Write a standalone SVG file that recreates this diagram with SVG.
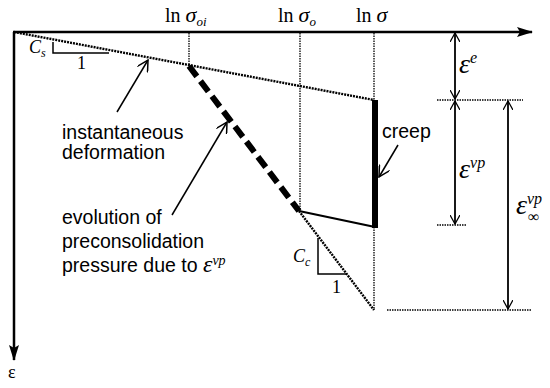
<svg xmlns="http://www.w3.org/2000/svg" width="550" height="388" viewBox="0 0 550 388">
<defs>
<marker id="fill" markerWidth="16" markerHeight="10" refX="15" refY="5" orient="auto" markerUnits="userSpaceOnUse"><path d="M0,0 L16,5 L0,10 L3,5 Z" fill="#000"/></marker>
<marker id="open" markerWidth="12" markerHeight="12" refX="11" refY="6" orient="auto" markerUnits="userSpaceOnUse"><path d="M0,0 L11,6 L0,12" fill="none" stroke="#000" stroke-width="1.5"/></marker>
<marker id="openS" markerWidth="10" markerHeight="10" refX="9" refY="5" orient="auto" markerUnits="userSpaceOnUse"><path d="M0,0 L9,5 L0,10" fill="none" stroke="#000" stroke-width="1.3"/></marker>
</defs>
<style>
.ax{stroke:#000;stroke-width:2.5;fill:none}
.dot{stroke:#000;stroke-width:1.3;stroke-dasharray:1.5 1;fill:none}
.dotb{stroke:#000;stroke-width:2.4;stroke-dasharray:2 1;fill:none}
.ln{stroke:#000;stroke-width:1.5;fill:none}
.dim{stroke:#000;stroke-width:1.8;fill:none}
.sans{font-family:"Liberation Sans",Arial,sans-serif;font-size:19.5px;fill:#000}
.ser{font-family:"Liberation Serif","Times New Roman",serif;fill:#000}
.it{font-style:italic}
</style>
<g id="connectors">
<line class="ax" x1="13" y1="32" x2="532" y2="32" marker-end="url(#fill)"/>
<line class="ax" x1="14" y1="32" x2="14" y2="360" marker-end="url(#fill)"/>
<line class="dot" x1="189" y1="33" x2="189" y2="66"/>
<line class="dot" x1="300" y1="33" x2="300" y2="212"/>
<line class="dot" x1="374" y1="33" x2="374" y2="100"/>
<line class="dot" x1="374" y1="227" x2="374" y2="310"/>
<line class="dotb" x1="14" y1="32" x2="374" y2="100"/>
<line stroke="#000" stroke-width="6" stroke-dasharray="13 6" x1="189" y1="66" x2="299" y2="211"/>
<line class="dotb" x1="299" y1="211" x2="374" y2="310"/>
<line stroke="#000" stroke-width="2.2" x1="299" y1="211" x2="375" y2="227"/>
<line stroke="#000" stroke-width="6" x1="375" y1="100" x2="375" y2="228"/>
<polyline class="ln" points="53,42 53,53 109,53"/>
<polyline class="ln" points="318,238 318,274 347,274"/>
<line class="ln" x1="117" y1="112" x2="148" y2="60" marker-end="url(#open)"/>
<line class="ln" x1="172" y1="215" x2="227" y2="122" marker-end="url(#open)"/>
<line class="ln" x1="398" y1="145" x2="379" y2="177" marker-end="url(#open)"/>
<line class="dot" x1="437" y1="100" x2="523" y2="100"/>
<line class="dot" x1="437" y1="225" x2="467" y2="225"/>
<line class="dot" x1="387" y1="310" x2="532" y2="310"/>
<line class="dim" x1="455" y1="66" x2="455" y2="33" marker-end="url(#openS)"/>
<line class="dim" x1="455" y1="66" x2="455" y2="99" marker-end="url(#openS)"/>
<line class="dim" x1="455" y1="160" x2="455" y2="101" marker-end="url(#openS)"/>
<line class="dim" x1="455" y1="160" x2="455" y2="224" marker-end="url(#openS)"/>
<line class="dim" x1="508" y1="200" x2="508" y2="101" marker-end="url(#openS)"/>
<line class="dim" x1="508" y1="200" x2="508" y2="309" marker-end="url(#openS)"/>
</g>
<g id="axis-labels">
<text class="ser" x="165" y="22" font-size="20">ln <tspan class="it" font-size="22">σ</tspan><tspan class="it" font-size="13" dy="4">oi</tspan></text>
<text class="ser" x="278" y="22" font-size="20">ln <tspan class="it" font-size="22">σ</tspan><tspan class="it" font-size="13" dy="4">o</tspan></text>
<text class="ser" x="356" y="22" font-size="20">ln <tspan class="it" font-size="22">σ</tspan></text>
<text class="ser" x="8" y="378" font-size="18">ε</text>
</g>
<g id="slopes">
<text class="ser it" x="29" y="53" font-size="18">C<tspan font-size="12" dy="4">s</tspan></text>
<text class="ser" x="77" y="69" font-size="18">1</text>
<text class="ser it" x="293" y="262" font-size="18">C<tspan font-size="12" dy="4">c</tspan></text>
<text class="ser" x="332" y="293" font-size="18">1</text>
</g>
<g id="labels">
<text class="sans" x="62" y="139">instantaneous</text>
<text class="sans" x="62" y="159">deformation</text>
<text class="sans" x="62" y="224">evolution of</text>
<text class="sans" x="62" y="248">preconsolidation</text>
<text class="sans" x="62" y="272">pressure due to <tspan class="ser it" font-size="24">ε</tspan><tspan class="ser it" font-size="14" dy="-7">vp</tspan></text>
<text class="sans" x="382" y="138" font-size="16">creep</text>
</g>
<g id="strain-labels">
<text class="ser it" x="459" y="73" font-size="28">ε<tspan font-size="16" dy="-10">e</tspan></text>
<text class="ser it" x="459" y="178" font-size="28">ε<tspan font-size="16" dy="-10">vp</tspan></text>
<text class="ser it" x="516" y="214" font-size="28">ε</text>
<text class="ser it" x="527" y="204" font-size="16">vp</text>
<text class="ser" x="528" y="222" font-size="16">∞</text>
</g>
</svg>
